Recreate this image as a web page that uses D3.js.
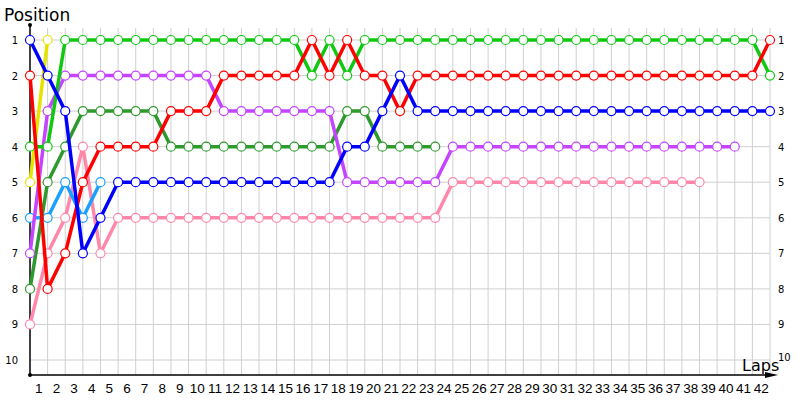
<!DOCTYPE html>
<html>
<head>
<meta charset="utf-8">
<style>
    body { margin: 0; background: #fff; }
    svg { font-family: 'DejaVu Sans', sans-serif; }
    .grid line { stroke: #d0d0d0; stroke-width: 1px; }
    .ylab text { font-size: 10px; fill: #000; }
    .xlab text { font-size: 13.5px; fill: #000; font-family: 'Liberation Sans', Arial, sans-serif; }
</style>
</head>
<body>
<svg width="800" height="400"></svg>

<script src="https://d3js.org/d3.v7.min.js"></script>
<script>
    // lap 0 = start grid, then laps 1..42
    let lapTicks = d3.range(1, 43)
    let positionTicks = d3.range(1, 11)

    // position of each car per lap (index = lap)
    let bright_green = [4, 4, 1, 1, 1, 1, 1, 1, 1, 1, 1, 1, 1, 1, 1, 1, 2, 1, 2, 1, 1, 1, 1, 1, 1, 1, 1, 1, 1, 1, 1, 1, 1, 1, 1, 1, 1, 1, 1, 1, 1, 1, 2]
    let red = [2, 8, 7, 5, 4, 4, 4, 4, 3, 3, 3, 2, 2, 2, 2, 2, 1, 2, 1, 2, 2, 3, 2, 2, 2, 2, 2, 2, 2, 2, 2, 2, 2, 2, 2, 2, 2, 2, 2, 2, 2, 2, 1]
    let blue = [1, 2, 3, 7, 6, 5, 5, 5, 5, 5, 5, 5, 5, 5, 5, 5, 5, 5, 4, 4, 3, 2, 3, 3, 3, 3, 3, 3, 3, 3, 3, 3, 3, 3, 3, 3, 3, 3, 3, 3, 3, 3, 3]
    let dark_green = [8, 5, 4, 3, 3, 3, 3, 3, 4, 4, 4, 4, 4, 4, 4, 4, 4, 4, 3, 3, 4, 4, 4, 4]
    let purple = [7, 3, 2, 2, 2, 2, 2, 2, 2, 2, 2, 3, 3, 3, 3, 3, 3, 3, 5, 5, 5, 5, 5, 5, 4, 4, 4, 4, 4, 4, 4, 4, 4, 4, 4, 4, 4, 4, 4, 4, 4]
    let pink = [9, 7, 6, 4, 7, 6, 6, 6, 6, 6, 6, 6, 6, 6, 6, 6, 6, 6, 6, 6, 6, 6, 6, 6, 5, 5, 5, 5, 5, 5, 5, 5, 5, 5, 5, 5, 5, 5, 5]
    let yellow = [5, 1]
    let light_blue = [6, 6, 5, 6, 5]

    let drivers = [
        { name: "pink", color: "#ff88aa", pos: pink },
        { name: "yellow", color: "#e4e400", pos: yellow },
        { name: "lightblue", color: "#1aa0ff", pos: light_blue },
        { name: "darkgreen", color: "#2e9a2e", pos: dark_green },
        { name: "purple", color: "#c444ff", pos: purple },
        { name: "green", color: "#10c810", pos: bright_green },
        { name: "red", color: "#ff0000", pos: red },
        { name: "blue", color: "#0000ff", pos: blue }
    ]

    let svg = d3.select("svg")

    let x = d3.scaleLinear().domain([0, 42]).range([30, 770])
    let y = d3.scaleLinear().domain([1, 10]).range([40, 360])

    let axisY = 375

    // grid
    let grid = svg.append("g").attr("class", "grid")
    grid.selectAll(".v")
        .data(lapTicks)
        .join("line")
        .attr("x1", d => x(d)).attr("x2", d => x(d))
        .attr("y1", 28).attr("y2", axisY)
    grid.selectAll(".h")
        .data(positionTicks)
        .join("line")
        .attr("x1", x(0)).attr("x2", x(42))
        .attr("y1", d => y(d)).attr("y2", d => y(d))

    // y labels on both sides
    svg.append("g").attr("class", "ylab")
        .selectAll("text")
        .data(positionTicks)
        .join("text")
        .attr("x", 18)
        .attr("y", d => y(d) + 4)
        .attr("text-anchor", "end")
        .text(d => d)
    svg.append("g").attr("class", "ylab")
        .selectAll("text")
        .data(positionTicks)
        .join("text")
        .attr("x", 778)
        .attr("y", d => d == 10 ? y(d) + 1 : y(d) + 4)
        .text(d => d)

    // x labels sit between gridlines
    svg.append("g").attr("class", "xlab")
        .selectAll("text")
        .data(lapTicks)
        .join("text")
        .attr("x", d => x(d - 0.5))
        .attr("y", 393)
        .attr("text-anchor", "middle")
        .text(d => d)

    // axes
    svg.append("line")
        .attr("x1", x(0)).attr("x2", x(0))
        .attr("y1", 25).attr("y2", axisY)
        .attr("stroke", "#000").attr("stroke-width", 1.5)
    svg.append("circle").attr("cx", x(0)).attr("cy", 25).attr("r", 2).attr("fill", "#000")
    svg.append("circle").attr("cx", x(0)).attr("cy", axisY).attr("r", 2).attr("fill", "#000")
    svg.append("line")
        .attr("x1", x(0)).attr("x2", 770)
        .attr("y1", axisY).attr("y2", axisY)
        .attr("stroke", "#000").attr("stroke-width", 1.5)
    svg.append("path")
        .attr("d", `M765,${axisY - 3} L778,${axisY} L765,${axisY + 3} Z`)
        .attr("fill", "#000")

    svg.append("text").attr("x", 4).attr("y", 21)
        .attr("font-size", 17).text("Position")
    svg.append("text").attr("x", 742).attr("y", 371)
        .attr("font-size", 16).text("Laps")

    // lines
    let line = d3.line()
        .x((d, i) => x(i))
        .y(d => y(d))

    let series = svg.append("g")
        .selectAll("g")
        .data(drivers)
        .join("g")

    series.append("path")
        .attr("d", d => line(d.pos))
        .attr("fill", "none")
        .attr("stroke", d => d.color)
        .attr("stroke-width", 3.5)
        .attr("stroke-linejoin", "round")

    series.selectAll("circle")
        .data(d => d.pos.map((p, i) => ({ lap: i, p: p, color: d.color })))
        .join("circle")
        .attr("cx", d => x(d.lap))
        .attr("cy", d => y(d.p))
        .attr("r", 4.5)
        .attr("fill", "#fff")
        .attr("stroke", d => d.color)
        .attr("stroke-width", 1.2)
</script>
</body>
</html>
